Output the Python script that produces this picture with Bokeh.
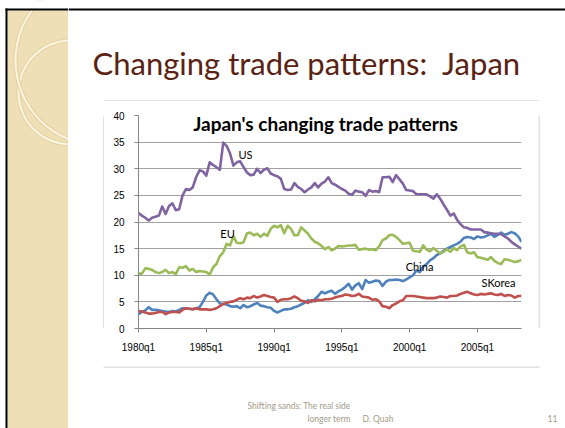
from bokeh.plotting import figure
from bokeh.layouts import row, column
from bokeh.models import FixedTicker, Label, Range1d
from bokeh.embed import file_html
from bokeh.resources import INLINE

# ---------------- data (share of Japan's trade, %) ----------------
quarters = list(range(114))  # 1980q1 ... 2008q2
x_tick_positions = [0, 20, 40, 60, 80, 100]
x_tick_labels = ["1980q1", "1985q1", "1990q1", "1995q1", "2000q1", "2005q1"]
y_ticks = [0, 5, 10, 15, 20, 25, 30, 35, 40]

us = [21.7, 21.2, 20.8, 20.3, 20.8, 21.0, 21.2, 22.9, 21.5, 23.0,
      23.5, 22.2, 22.4, 25.0, 26.2, 26.0, 26.5, 28.4, 29.7, 29.5,
      28.7, 31.2, 30.7, 30.3, 29.8, 34.9, 34.3, 32.9, 30.6, 31.2,
      31.4, 30.3, 29.3, 28.8, 28.9, 30.0, 29.2, 29.8, 30.1, 29.1,
      28.8, 28.6, 28.1, 26.2, 26.0, 26.1, 27.3, 26.6, 26.2, 25.6,
      26.1, 26.5, 27.3, 26.5, 27.2, 27.6, 28.4, 27.3, 27.0, 26.6,
      26.2, 25.9, 25.3, 25.1, 25.9, 25.7, 25.6, 24.9, 26.0, 25.7,
      25.8, 25.6, 28.4, 28.4, 28.5, 27.5, 28.8, 28.0, 27.2, 26.0,
      25.9, 25.8, 25.2, 25.2, 25.2, 25.2, 24.8, 24.4, 25.2, 24.4,
      23.3, 22.3, 21.2, 21.6, 20.4, 19.6, 19.0, 18.9, 18.6, 18.6,
      18.6, 18.6, 18.1, 18.0, 17.9, 17.8, 17.8, 17.7, 17.3, 16.9,
      16.3, 15.8, 15.4, 15.0]

eu = [10.3, 10.3, 11.3, 11.2, 11.0, 10.6, 10.4, 10.6, 11.0, 10.4,
      10.6, 10.2, 11.5, 11.4, 11.7, 10.9, 11.2, 10.6, 10.8, 10.7,
      10.6, 10.1, 11.5, 12.1, 13.6, 14.3, 15.9, 15.6, 17.3, 16.1,
      16.0, 16.2, 17.9, 18.0, 17.5, 17.8, 17.2, 17.8, 17.4, 18.7,
      19.3, 19.0, 19.4, 17.9, 19.3, 18.7, 17.5, 17.5, 19.0, 18.4,
      17.8, 16.9, 16.3, 16.0, 15.5, 14.9, 15.3, 14.7, 15.0, 15.5,
      15.4, 15.5, 15.6, 15.6, 15.7, 14.8, 14.9, 15.0, 14.8, 14.9,
      14.7, 15.4, 16.6, 16.9, 17.5, 17.6, 17.2, 16.6, 15.9, 16.0,
      16.1, 14.6, 14.5, 14.4, 15.6, 14.8, 14.5, 15.1, 14.6, 14.1,
      14.4, 14.9, 14.4, 15.1, 14.7, 15.4, 15.7, 14.3, 14.1, 14.3,
      13.4, 13.3, 13.1, 12.9, 13.4, 12.7, 12.3, 12.1, 13.0, 12.9,
      12.7, 12.5, 12.6, 12.9]

china = [2.7, 3.1, 3.4, 4.0, 3.5, 3.5, 3.4, 3.3, 3.2, 3.1,
         3.3, 3.2, 3.5, 3.8, 3.8, 3.7, 3.6, 3.8, 4.0, 5.0,
         6.2, 6.7, 6.4, 5.5, 4.7, 4.6, 4.5, 4.2, 4.1, 4.2,
         3.8, 4.4, 4.0, 4.2, 4.5, 4.8, 4.3, 4.2, 4.0, 3.9,
         3.3, 3.0, 3.3, 3.6, 3.6, 3.7, 4.0, 4.2, 4.5, 4.8,
         5.3, 5.0, 5.5, 6.1, 6.9, 6.6, 6.9, 7.1, 6.5, 7.0,
         7.3, 7.8, 8.4, 7.3, 8.1, 8.5, 7.4, 9.1, 8.6, 8.8,
         9.0, 8.9, 8.0, 8.8, 9.1, 9.1, 9.2, 9.1, 8.9, 9.2,
         9.6, 10.0, 10.9, 10.6, 11.6, 12.1, 12.8, 13.2, 13.8, 14.1,
         14.6, 15.0, 15.3, 15.6, 15.9, 16.3, 17.0, 17.2, 17.1, 16.8,
         17.3, 17.1, 17.2, 17.5, 17.8, 17.2, 17.6, 18.0, 17.6, 17.8,
         18.1, 17.9, 17.3, 16.3]

skorea = [3.3, 3.2, 3.0, 2.8, 2.8, 2.9, 3.1, 3.1, 2.7, 3.0,
          3.1, 3.1, 3.0, 3.5, 3.8, 3.7, 3.6, 3.8, 3.6, 3.6,
          3.6, 3.5, 3.6, 3.8, 4.2, 4.6, 4.8, 5.0, 5.1, 5.4,
          5.7, 5.5, 5.8, 5.7, 6.1, 5.8, 6.0, 6.3, 6.1, 5.9,
          5.8, 5.0, 5.4, 5.5, 5.5, 5.7, 6.0, 5.7, 5.2, 5.1,
          4.8, 5.3, 5.1, 5.4, 5.3, 5.5, 5.5, 5.6, 5.8, 6.0,
          6.1, 6.4, 6.3, 6.1, 6.2, 6.5, 6.0, 5.9, 5.8, 5.4,
          5.5, 5.1, 4.2, 4.1, 3.8, 4.4, 4.7, 5.1, 5.3, 6.1,
          6.1, 6.1, 6.0, 5.9, 5.8, 5.7, 5.7, 5.7, 5.8, 6.0,
          5.9, 5.8, 6.1, 6.1, 6.2, 6.5, 6.7, 6.9, 6.6, 6.4,
          6.3, 6.5, 6.4, 6.5, 6.6, 6.4, 6.3, 6.5, 6.1, 6.3,
          6.2, 5.8, 6.1, 6.1]

series_names = ["China", "SKorea", "EU", "US"]
series_colors = ["#4F81BD", "#C0504D", "#9BBB59", "#8064A2"]

# ---------------- page geometry (pixels of the 565x428 slide) ----------------
PW, PH = 565, 428
STRIP_W = 68          # left decorative strip
BOX_L, BOX_R, BOX_T, BOX_B = 104, 538, 101, 366   # chart box
CL, CR, CT, CB = 34, 17, 14, 38                   # chart inner borders
FW = (BOX_R - BOX_L) - CL - CR
FH = (BOX_B - BOX_T) - CT - CB
X0, X1, Y0, Y1 = 0, 113, 0, 40

BEIGE = "#efdfb6"
BOX_COL = "#c4c4c4"
FOOT = "#a39a86"


def dx(px):
    return X0 + (px - BOX_L - CL) * (X1 - X0) / FW


def dy(py):
    return Y0 + (BOX_T + CT + FH - py) * (Y1 - Y0) / FH


def deco(w, h, x0, y0):
    """decoration panel whose data coordinates are slide pixels (y downwards)"""
    f = figure(width=w, height=h, output_backend="svg", toolbar_location=None,
               x_range=Range1d(x0, x0 + w), y_range=Range1d(y0 + h, y0),
               min_border=0, x_axis_type=None, y_axis_type=None)
    f.title = None
    f.outline_line_color = None
    f.background_fill_color = "white"
    f.border_fill_color = "white"
    return f


# ---- left strip ----
strip = deco(STRIP_W, PH, 0, 0)
strip.quad(left=7, right=STRIP_W, top=10, bottom=PH, fill_color=BEIGE, line_color=None)
for cx, cy, r in [(70, 92, 52), (100, 60, 85)]:
    strip.annulus(x=cx, y=cy, inner_radius=r - 2.2, outer_radius=r + 2.2,
                  fill_color="#e6d3a3", line_color=None)
    strip.annulus(x=cx, y=cy, inner_radius=r - 1.0, outer_radius=r + 1.0,
                  fill_color="#fbf5e4", line_color=None)
strip.quad(left=0, right=5, top=0, bottom=PH, fill_color="white", line_color=None)
strip.quad(left=0, right=STRIP_W, top=0, bottom=8, fill_color="white", line_color=None)
strip.quad(left=5, right=7, top=8, bottom=PH, fill_color="black", line_color=None)
strip.quad(left=5, right=STRIP_W, top=8, bottom=10, fill_color="black", line_color=None)

# ---- title panel ----
RW = PW - STRIP_W
top = deco(RW, BOX_T, STRIP_W, 0)
top.quad(left=STRIP_W, right=PW, top=8, bottom=10, fill_color="black", line_color=None)
top.segment(x0=BOX_L, y0=BOX_T - 0.5, x1=BOX_R, y1=BOX_T - 0.5, line_color=BOX_COL, line_width=1)
top.add_layout(Label(x=92, y=62, text="Changing trade patterns: \u00a0Japan",
                     text_font="Lato", text_font_size="31px", text_color="#5a2213",
                     text_align="left", text_baseline="middle"))

# ---- side spacers with the box edges ----
left_sp = deco(BOX_L - STRIP_W, BOX_B - BOX_T, STRIP_W, BOX_T)
left_sp.segment(x0=BOX_L - 0.5, y0=BOX_T, x1=BOX_L - 0.5, y1=BOX_B, line_color=BOX_COL, line_width=1)
right_sp = deco(PW - BOX_R, BOX_B - BOX_T, BOX_R, BOX_T)
right_sp.segment(x0=BOX_R + 0.5, y0=BOX_T, x1=BOX_R + 0.5, y1=BOX_B, line_color=BOX_COL, line_width=1)

# ---- footer ----
foot = deco(RW, PH - BOX_B, STRIP_W, BOX_B)
foot.segment(x0=BOX_L - 1, y0=BOX_B + 0.5, x1=BOX_R + 1, y1=BOX_B + 0.5, line_color=BOX_COL, line_width=1)
for txt, fx, fy in [("Shifting sands: The real side", 247, 405.5), ("longer term", 307, 418),
                    ("D. Quah", 362, 418), ("11", 547, 418)]:
    foot.add_layout(Label(x=fx, y=fy, text=txt, text_font="Lato", text_font_size="8.5px",
                          text_color=FOOT, text_align="left", text_baseline="middle"))

# ---- chart ----
p = figure(width=BOX_R - BOX_L, height=BOX_B - BOX_T, output_backend="svg", toolbar_location=None,
           x_range=Range1d(X0, X1), y_range=Range1d(Y0, Y1),
           min_border_left=CL, min_border_right=CR, min_border_top=CT, min_border_bottom=CB)
p.title = None
p.background_fill_color = "white"
p.border_fill_color = "white"
p.outline_line_color = None

axis_col = "#868686"
for ax in (p.xaxis[0], p.yaxis[0]):
    ax.axis_line_color = axis_col
    ax.major_tick_line_color = axis_col
    ax.minor_tick_line_color = None
    ax.major_tick_in = 0
    ax.major_tick_out = 4
    ax.major_label_text_font = "Liberation Sans"
    ax.major_label_text_font_size = "10px"
    ax.major_label_text_color = "#000000"

p.xaxis.ticker = FixedTicker(ticks=x_tick_positions)
p.xaxis.major_label_overrides = dict(zip(x_tick_positions, x_tick_labels))
p.xaxis.major_label_standoff = 9
p.yaxis.ticker = FixedTicker(ticks=y_ticks)
p.yaxis.major_label_standoff = 10
p.xgrid.visible = False
p.ygrid.ticker = FixedTicker(ticks=y_ticks)
p.ygrid.grid_line_color = "#a0a0a0"
p.ygrid.grid_line_width = 1

for name, vals, col in zip(series_names, [china, skorea, eu, us], series_colors):
    p.line(quarters, vals, line_color=col, line_width=2.6, line_join="round")

for txt, rx, ry in [("US", 245, 154), ("EU", 227, 233), ("China", 419, 266), ("SKorea", 498, 282)]:
    p.add_layout(Label(x=dx(rx), y=dy(ry), text=txt, text_font="Lato", text_font_size="11px",
                       text_color="#000000", text_align="center", text_baseline="middle"))

p.add_layout(Label(x=dx(325), y=dy(123), text="Japan's changing trade patterns",
                   text_font="Lato", text_font_style="bold", text_font_size="19px",
                   text_color="#000000", text_align="center", text_baseline="middle"))

layout = row(strip, column(top, row(left_sp, p, right_sp), foot))

open("out.html", "w").write(file_html(layout, INLINE))
